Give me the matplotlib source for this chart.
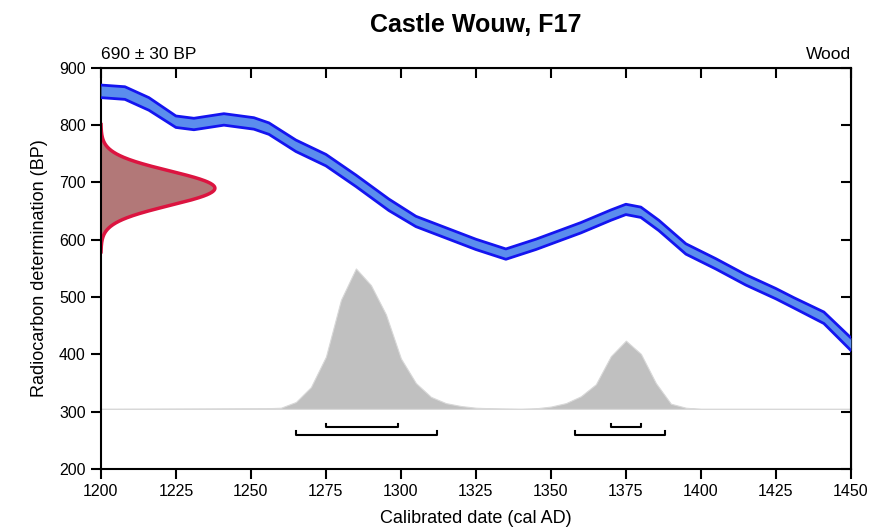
import numpy as np
import matplotlib.pyplot as plt

plt.rcParams['font.family'] = ['Liberation Sans', 'DejaVu Sans']

# calibration curve (cal AD, BP centre, 1 sigma)
cal_year = [1200, 1208, 1216, 1225, 1231, 1241, 1251, 1256, 1265, 1275, 1285, 1296,
            1305, 1315, 1325, 1335, 1345, 1360, 1370, 1375, 1380, 1386, 1395, 1405,
            1415, 1425, 1431, 1441, 1450]
cal_bp = [859, 856, 837, 806, 802, 810, 803, 794, 764, 739, 703, 661,
          632, 612, 592, 575, 592, 621, 643, 653, 648, 625, 584, 558,
          530, 506, 490, 464, 418]
cal_err = [11, 11, 11, 10, 10, 10, 10, 10, 10, 10, 10, 10,
           9, 9, 9, 9, 9, 9, 9, 9, 9, 9, 9, 9,
           9, 9, 9, 10, 11]

# radiocarbon measurement
c14_mean = 690
c14_sd = 30

# calibrated probability (shown as height above baseline)
post_year = [1200, 1255, 1260, 1265, 1270, 1275, 1280, 1285, 1290, 1295, 1300, 1305,
             1310, 1315, 1320, 1325, 1330, 1340, 1345, 1350, 1355, 1360, 1365, 1370,
             1375, 1380, 1385, 1390, 1395, 1400, 1450]
post_h = [0, 1, 2, 12, 38, 91, 190, 245, 216, 165, 88, 45,
          21, 10, 5, 2, 1, 0, 1, 4, 10, 22, 43, 92,
          119, 96, 45, 9, 2, 0, 0]
post_base = 305

# highest probability ranges
range68 = [(1275, 1299), (1370, 1380)]
range95 = [(1265, 1312), (1358, 1388)]

fig = plt.figure(figsize=(8.7, 5.3), dpi=100)
ax = fig.add_axes([0.116, 0.115, 0.862, 0.757])

yr = np.array(cal_year)
bp = np.array(cal_bp)
er = np.array(cal_err)
ax.fill_between(yr, bp - er, bp + er, color='#5b8ded', lw=0, zorder=3)
ax.plot(yr, bp + er, color='#1414f0', lw=2, zorder=4, solid_joinstyle='round')
ax.plot(yr, bp - er, color='#1414f0', lw=2, zorder=4, solid_joinstyle='round')

# measurement on y axis
yy = np.linspace(c14_mean - 3.7 * c14_sd, c14_mean + 3.7 * c14_sd, 300)
g = np.exp(-0.5 * ((yy - c14_mean) / c14_sd) ** 2)
ax.fill_betweenx(yy, 1200, 1200 + 38 * g, color='#b27878', lw=0, zorder=2)
ax.plot(1200 + 38 * g, yy, color='#dc1440', lw=2.5, zorder=2)

# calibrated distribution
ax.fill_between(post_year, post_base, post_base + np.array(post_h),
                color='#c0c0c0', lw=0.8, edgecolor='#d8d8d8', zorder=1)

# range brackets
for lo, hi in range68:
    ax.plot([lo, lo, hi, hi], [279, 273, 273, 279], color='black', lw=1.5)
for lo, hi in range95:
    ax.plot([lo, lo, hi, hi], [266, 260, 260, 266], color='black', lw=1.5)

ax.set_xlim(1200, 1450)
ax.set_ylim(200, 900)
ax.set_xticks(range(1200, 1451, 25))
ax.set_yticks(range(200, 901, 100))
ax.tick_params(direction='out', length=7, width=1.5, labelsize=11.5, pad=4)
for s in ax.spines.values():
    s.set_linewidth(1.5)

top = ax.secondary_xaxis('top')
top.set_xticks(range(1200, 1451, 25))
top.tick_params(direction='in', length=7, width=1.5, labeltop=False)
right = ax.secondary_yaxis('right')
right.set_yticks(range(200, 901, 100))
right.tick_params(direction='in', length=7, width=1.5, labelright=False)

ax.set_xlabel('Calibrated date (cal AD)', fontsize=13, labelpad=8)
ax.set_ylabel('Radiocarbon determination (BP)', fontsize=13, labelpad=8)
ax.set_title('Castle Wouw, F17', fontsize=18, fontweight='bold', pad=26)
ax.text(0, 1.015, '690 ± 30 BP', transform=ax.transAxes, fontsize=12.5, ha='left', va='bottom')
ax.text(1, 1.015, 'Wood', transform=ax.transAxes, fontsize=12.5, ha='right', va='bottom')

fig.savefig('out.png', dpi=100)
